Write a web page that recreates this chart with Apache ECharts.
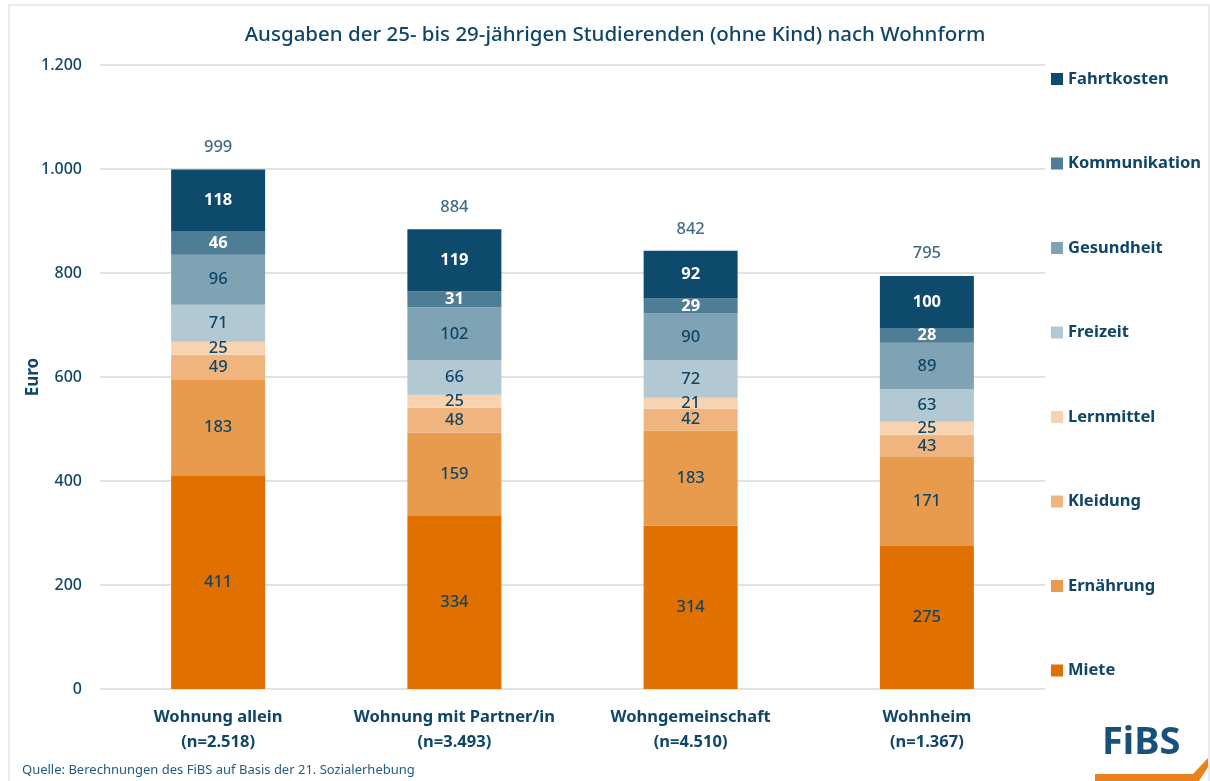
<!DOCTYPE html>
<html>
<head>
<meta charset="utf-8">
<script src="https://cdn.jsdelivr.net/npm/echarts@6/dist/echarts.min.js"></script>
<style>html,body{margin:0;padding:0;background:#fff;}#c{width:1210px;height:781px;}</style>
</head>
<body>
<div id="c"></div>
<script>
const categories = ['Wohnung allein\n(n=2.518)', 'Wohnung mit Partner/in\n(n=3.493)', 'Wohngemeinschaft\n(n=4.510)', 'Wohnheim\n(n=1.367)'];
const miete = [411, 334, 314, 275];
const ernaehrung = [183, 159, 183, 171];
const kleidung = [49, 48, 42, 43];
const lernmittel = [25, 25, 21, 25];
const freizeit = [71, 66, 72, 63];
const gesundheit = [96, 102, 90, 89];
const kommunikation = [46, 31, 29, 28];
const fahrtkosten = [118, 119, 92, 100];
const totals = [999, 884, 842, 795];
const yTicks = [0, 200, 400, 600, 800, 1000, 1200];

const TXT = '#0F4567';
const FONT = 'Noto Sans';
const fmtDE = v => String(v).replace(/\B(?=(\d{3})+(?!\d))/g, '.');

const seriesDefs = [
  ['Miete', miete, '#E07000', false],
  ['Ernährung', ernaehrung, '#E99B4D', false],
  ['Kleidung', kleidung, '#F0B57E', false],
  ['Lernmittel', lernmittel, '#F7D3B1', false],
  ['Freizeit', freizeit, '#B2C8D3', false],
  ['Gesundheit', gesundheit, '#7FA2B4', false],
  ['Kommunikation', kommunikation, '#4E7D96', true],
  ['Fahrtkosten', fahrtkosten, '#0D4A6B', true]
];

const series = seriesDefs.map(([name, data, color, light]) => ({
  name, type: 'bar', stack: 'total', data, barWidth: 94,
  itemStyle: { color },
  label: {
    show: true, position: 'inside', fontFamily: FONT, fontSize: 16.5,
    color: light ? '#ffffff' : TXT, fontWeight: light ? 'bold' : 500
  }
}));
series.push({
  name: 'Summe', type: 'scatter', data: totals, symbolSize: 1,
  itemStyle: { color: 'rgba(0,0,0,0)' }, silent: true,
  label: { show: true, position: 'top', distance: 13, fontFamily: FONT, fontSize: 16.5, fontWeight: 500, color: TXT }
});

const chart = echarts.init(document.getElementById('c'));
chart.setOption({
  backgroundColor: '#fff',
  animation: false,
  title: {
    text: 'Ausgaben der 25- bis 29-jährigen Studierenden (ohne Kind) nach Wohnform',
    left: 610, top: 20, textAlign: 'center',
    textStyle: { fontFamily: FONT, fontSize: 20.5, fontWeight: 500, color: TXT }
  },
  legend: {
    orient: 'vertical', left: 1046, top: 64,
    data: ['Fahrtkosten', 'Kommunikation', 'Gesundheit', 'Freizeit', 'Lernmittel', 'Kleidung', 'Ernährung', 'Miete'],
    itemWidth: 12, itemHeight: 12, itemGap: 64.5, icon: 'rect',
    textStyle: { fontFamily: FONT, fontSize: 16.5, fontWeight: 'bold', color: TXT, lineHeight: 20, padding: [0, 0, 0, 0] }
  },
  grid: { left: 100, right: 165, top: 65, bottom: 92 },
  xAxis: {
    type: 'category', data: categories,
    axisLine: { show: false }, axisTick: { show: false },
    axisLabel: { interval: 0, margin: 16, fontFamily: FONT, fontSize: 16.5, fontWeight: 'bold', color: TXT, lineHeight: 25 }
  },
  yAxis: {
    type: 'value', min: 0, max: 1200, interval: 200,
    name: 'Euro', nameLocation: 'middle', nameRotate: 90, nameGap: 58, nameMoveOverlap: false,
    nameTextStyle: { fontFamily: FONT, fontSize: 17, fontWeight: 'bold', color: TXT },
    axisLabel: { margin: 18, fontFamily: FONT, fontSize: 16, fontWeight: 500, color: TXT, formatter: v => fmtDE(v) },
    splitLine: { lineStyle: { color: '#D9D9D9', width: 1.5 } }
  },
  series,
  graphic: [
    { type: 'rect', shape: { x: 9, y: 5, width: 1200, height: 800 }, style: { fill: 'none', stroke: '#E3E3E3', lineWidth: 1.5 }, silent: true },
    { type: 'text', left: 22, top: 764, style: { text: 'Quelle: Berechnungen des FiBS auf Basis der 21. Sozialerhebung', fontFamily: FONT, fontSize: 13, fill: '#1F5C80' } },
    { type: 'text', left: 1102, top: 724, style: { text: 'FiBS', fontFamily: FONT, fontSize: 38, fontWeight: 'bold', fill: '#17517A' } },
    { type: 'polygon', shape: { points: [[1095, 774], [1193, 774], [1208, 758], [1208, 767], [1199, 781], [1095, 781]] }, style: { fill: '#E8821E' } }
  ]
});
</script>
</body>
</html>
